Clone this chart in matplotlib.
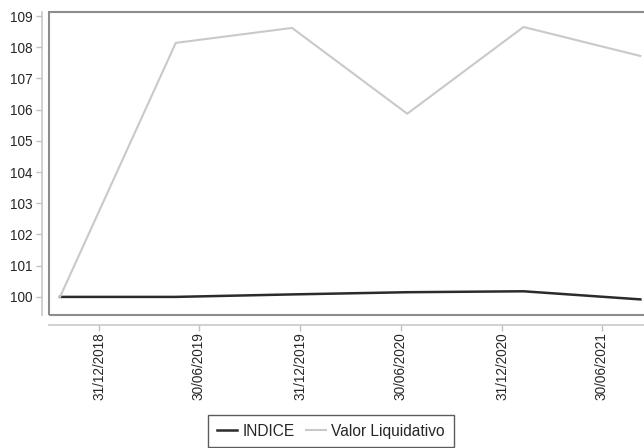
import matplotlib
matplotlib.use("Agg")
import matplotlib.pyplot as plt
import matplotlib.dates as mdates
from matplotlib.patches import Rectangle
import datetime as dt

plt.rcParams['font.family'] = ['Liberation Sans', 'DejaVu Sans']

# Data
dates = ["2018-10-21", "2019-05-19", "2019-12-16", "2020-07-12", "2021-02-08", "2021-09-08"]
indice = [100.0, 100.0, 100.08, 100.15, 100.18, 99.92]
valor_liquidativo = [100.0, 108.14, 108.62, 105.87, 108.65, 107.72]
tick_dates = ["2018-12-31", "2019-06-30", "2019-12-31", "2020-06-30", "2020-12-31", "2021-06-30"]
y_ticks = [100, 101, 102, 103, 104, 105, 106, 107, 108, 109]

x = [dt.datetime.strptime(d, "%Y-%m-%d") for d in dates]
xt = [dt.datetime.strptime(d, "%Y-%m-%d") for d in tick_dates]

fig = plt.figure(figsize=(6.44, 4.48), dpi=100)
ax = fig.add_axes([49/644, 1-315/448, (647-49)/644, (315-12)/448])

l1, = ax.plot(x, indice, color="#2b2b2b", lw=1.8, label="INDICE")
l2, = ax.plot(x, valor_liquidativo, color="#c9c9c9", lw=1.5, label="Valor Liquidativo")

ax.set_xlim(dt.datetime(2018, 10, 1), dt.datetime(2021, 9, 20))
ax.set_ylim(99.42, 109.13)
ax.set_yticks(y_ticks)
ax.set_xticks(xt)
ax.xaxis.set_major_formatter(mdates.DateFormatter("%d/%m/%Y"))

for s in ["top", "right"]:
    ax.spines[s].set_visible(False)
ax.spines["left"].set_position(("outward", 5))
ax.spines["bottom"].set_position(("outward", 7))
for s in ["left", "bottom"]:
    ax.spines[s].set_color("#c8c8c8")
    ax.spines[s].set_linewidth(1.2)
ax.tick_params(axis="both", colors="#c0c0c0", labelcolor="#262626", labelsize=9.8, length=4, width=1)
ax.tick_params(axis="y", pad=3)
ax.tick_params(axis="x", pad=1.5, labelrotation=90)

frame = Rectangle((0, 0), 1.01, 1, transform=ax.transAxes, fill=False,
                  edgecolor="#8c8c8c", lw=1.5, clip_on=False, zorder=5)
ax.add_patch(frame)

leg = fig.legend(handles=[l1, l2], loc="upper center", bbox_to_anchor=(331/644, 1-415/448),
                 ncol=2, frameon=True, fancybox=False, fontsize=11.2,
                 handlelength=1.3, handletextpad=0.35, columnspacing=0.7,
                 borderpad=0.55, borderaxespad=0)
leg.get_frame().set_edgecolor("#333333")
leg.get_frame().set_linewidth(1.0)
for t in leg.get_texts():
    t.set_color("#262626")

fig.savefig("out.png", dpi=100)
